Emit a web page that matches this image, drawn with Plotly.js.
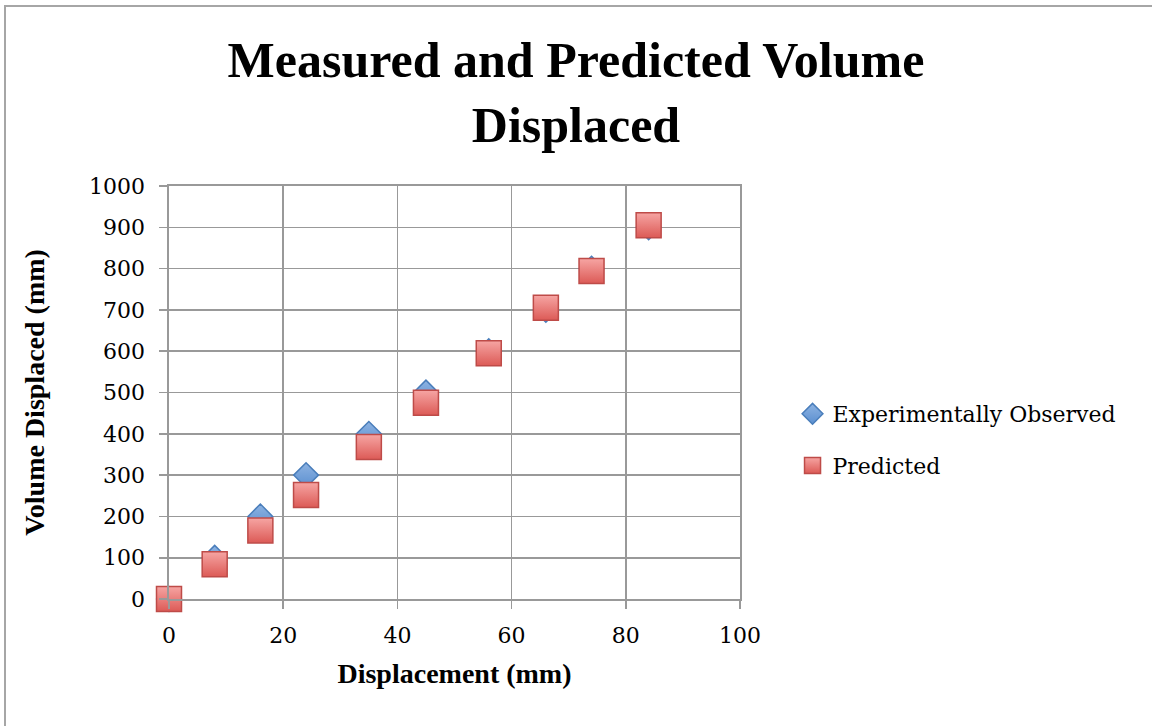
<!DOCTYPE html>
<html>
<head>
<meta charset="utf-8">
<script src="https://cdn.plot.ly/plotly-3.0.1.min.js"></script>
<style>
  html, body { margin: 0; padding: 0; background: #ffffff; }
  #wrap { position: relative; width: 1152px; height: 726px; overflow: hidden; }
  #chart { position: absolute; left: 0; top: 0; width: 1152px; height: 726px; }
  #frame { position: absolute; left: 4px; top: 5px; width: 1200px; height: 800px;
           border-left: 2px solid #a6a6a6; border-top: 2px solid #a6a6a6; pointer-events: none; }
</style>
</head>
<body>
<div id="wrap"><div id="chart"></div><div id="frame"></div></div>
<script>
// Data
const displacement = [0, 8, 16, 24, 35, 45, 56, 66, 74, 84];
const observedVolume = [0, 100, 200, 300, 400, 500, 600, 700, 800, 900];
const predictedVolume = [0, 84, 166, 252, 368, 475, 595, 705, 794, 905];
const xTicks = [0, 20, 40, 60, 80, 100];
const yTicks = [0, 100, 200, 300, 400, 500, 600, 700, 800, 900, 1000];

const serif = '"DejaVu Serif", "Liberation Serif", serif';
const boldSerif = '"Liberation Serif", "DejaVu Serif", serif';

const traces = [
  {
    type: 'scatter', mode: 'markers', name: 'Experimentally Observed',
    x: displacement, y: observedVolume, legendgroup: 'a',
    marker: { symbol: 'diamond', size: 19, color: '#8db3e2',
              gradient: { type: 'vertical', color: '#5b8fd0' },
              line: { color: '#4a7ebb', width: 1.5 } },
    cliponaxis: false
  },
  {
    type: 'scatter', mode: 'markers', name: 'Predicted',
    x: displacement, y: predictedVolume, legendgroup: 'b',
    marker: { symbol: 'square', size: 25, color: '#f6a5a3',
              gradient: { type: 'vertical', color: '#dc5a56' },
              line: { color: '#be4b48', width: 1.5 } },
    cliponaxis: false
  }
];

const layout = {
  width: 1152, height: 726,
  paper_bgcolor: '#ffffff', plot_bgcolor: '#ffffff',
  margin: { l: 169, r: 411.5, t: 186, b: 126.7, pad: 0 },
  title: {
    text: '<b>Measured and Predicted Volume<br>Displaced</b>',
    font: { family: boldSerif, size: 50, color: '#000000' },
    x: 0.5, xref: 'container', xanchor: 'center',
    y: 1 - 77 / 726, yref: 'container', yanchor: 'middle'
  },
  xaxis: {
    range: [0, 100], tickvals: xTicks, ticktext: xTicks.map(String),
    showgrid: true, gridcolor: '#999999', gridwidth: 1.6,
    showline: true, linecolor: '#999999', linewidth: 1.6, mirror: true,
    ticks: 'outside', ticklen: 8, tickcolor: '#999999', tickwidth: 1.6,
    ticklabelstandoff: 8,
    zeroline: false,
    tickfont: { family: serif, size: 22, color: '#000000' },
    title: { text: '<b>Displacement (mm)</b>', font: { family: boldSerif, size: 28, color: '#000000' }, standoff: 16 }
  },
  yaxis: {
    range: [0, 1000], tickvals: yTicks, ticktext: yTicks.map(String),
    showgrid: true, gridcolor: '#999999', gridwidth: 1.6,
    showline: true, linecolor: '#999999', linewidth: 1.6, mirror: true,
    ticks: 'outside', ticklen: 8, tickcolor: '#999999', tickwidth: 1.6,
    ticklabelstandoff: 10,
    zeroline: false,
    tickfont: { family: serif, size: 22, color: '#000000' },
    title: { text: '<b>Volume Displaced (mm)</b>', font: { family: boldSerif, size: 28, color: '#000000' }, standoff: 36 }
  },
  showlegend: true,
  legend: {
    x: 1.092, xanchor: 'left', y: 0.385, yanchor: 'middle',
    font: { family: serif, size: 22, color: '#000000' },
    bgcolor: 'rgba(0,0,0,0)', borderwidth: 0,
    tracegroupgap: 20, itemwidth: 30
  }
};

Plotly.newPlot('chart', traces, layout, { displayModeBar: false, staticPlot: true });
</script>
</body>
</html>
